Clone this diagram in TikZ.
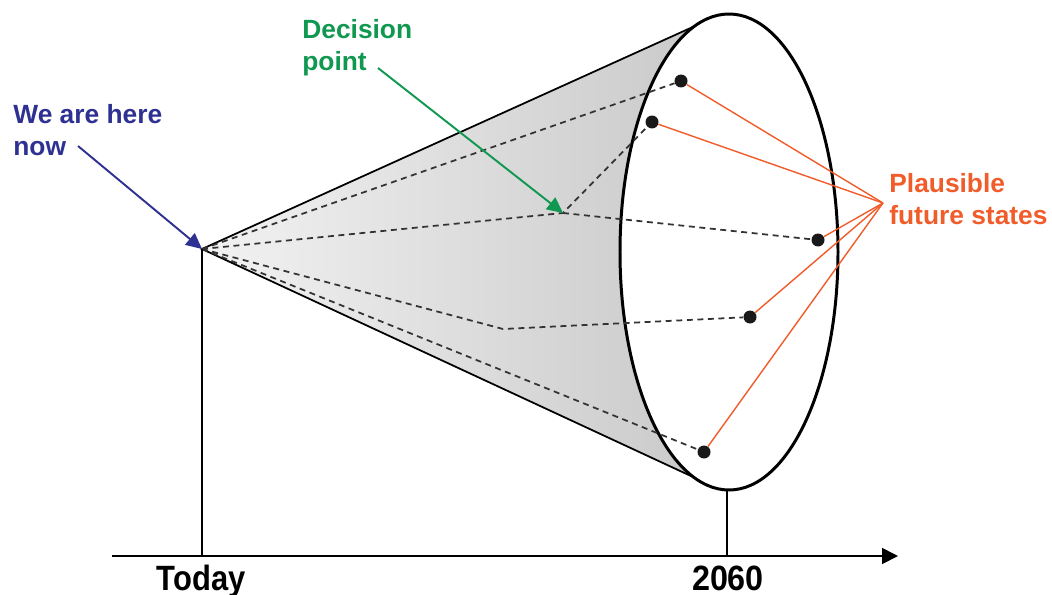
\documentclass[tikz,border=0pt]{standalone}
\usepackage{fontspec}
\usepackage{xcolor}
\usepackage{tikz}
\usetikzlibrary{calc}
\usetikzlibrary{arrows.meta}
\setmainfont{Liberation Sans}

\definecolor{hereblue}{RGB}{46,49,146}
\definecolor{decgreen}{RGB}{16,152,80}
\definecolor{plausorange}{RGB}{240,92,42}

\tikzset{
    dot/.style={circle,fill=black!90,inner sep=0pt,minimum size=0.26cm},
    pathline/.style={black!80,line width=1pt,dash pattern=on 3.4pt off 2.6pt},
    stateline/.style={plausorange,line width=0.8pt},
    bigtxt/.style={inner sep=0pt,font=\bfseries\fontsize{15}{18}\selectfont,align=left},
    yeartxt/.style={inner sep=0pt,font=\bfseries\fontsize{20}{22}\selectfont}
}

\begin{document}
\begin{tikzpicture}[x=0.02cm,y=-0.02cm]
\useasboundingbox (0,0) rectangle (1052,595);

% Cone
\coordinate (now) at (202,249);
\coordinate (rimT) at (706,21);
\coordinate (rimB) at (706,483);
\shade[left color=gray!10,right color=gray!42] (now) -- (rimT) -- (rimB) -- cycle;
\draw[line width=1pt] (rimT) -- (now) -- (rimB);

% Horizon 2060
\draw[line width=1.7pt,fill=white] (729,252) ellipse (109 and 238);
\coordinate (rimLow) at (727,490);

% Pathways
\coordinate (dec) at (563,213);
\coordinate (bend) at (503,329);
\foreach \name/\x/\y in {f1/681/81, f2/652/122, f3/818/240, f4/750/317, f5/704/452} {
    \node[dot] (\name) at (\x,\y) {};
}
\draw[pathline] (now) -- (f1);
\draw[pathline] (now) -- (dec) -- (f2);
\draw[pathline] (dec) -- (f3);
\draw[pathline] (now) -- (bend) -- (f4);
\draw[pathline] (now) -- (f5);

% Plausible future states
\node[bigtxt,plausorange,anchor=west] (plaus) at (889,199) {Plausible\\future states};
\coordinate (conv) at (883,203);
\foreach \name in {f1,f2,f3,f4,f5} {
    \draw[stateline] (\name) -- (conv);
}

% We are here now
\node[bigtxt,hereblue,anchor=north west] (here) at (13,104) {We are here\\now};
\coordinate (hereTail) at (78,146);
\draw[hereblue,line width=1.1pt,-{Triangle[length=9pt,width=8.5pt]}] (hereTail) -- (now);

% Decision point
\node[bigtxt,decgreen,anchor=north west] (decision) at (302,19) {Decision\\point};
\coordinate (decTail) at (378,68);
\draw[decgreen,line width=1.1pt,-{Triangle[length=9pt,width=8.5pt]}] (decTail) -- (dec);

% Time axis
\coordinate (axL) at (112,556);
\coordinate (axR) at (898,556);
\draw[line width=1pt,-{Triangle[length=9pt,width=9pt]}] (axL) -- (axR);
\draw[line width=0.7pt] (now) -- (now |- axL);
\draw[line width=0.7pt] (rimLow) -- (rimLow |- axL);

% Labels
\node[yeartxt,anchor=base] (today) at (201,590) {\scalebox{0.88}[1]{Today}};
\node[yeartxt,anchor=base] (year) at (728,590) {\scalebox{0.92}[1]{2060}};
\end{tikzpicture}
\end{document}
